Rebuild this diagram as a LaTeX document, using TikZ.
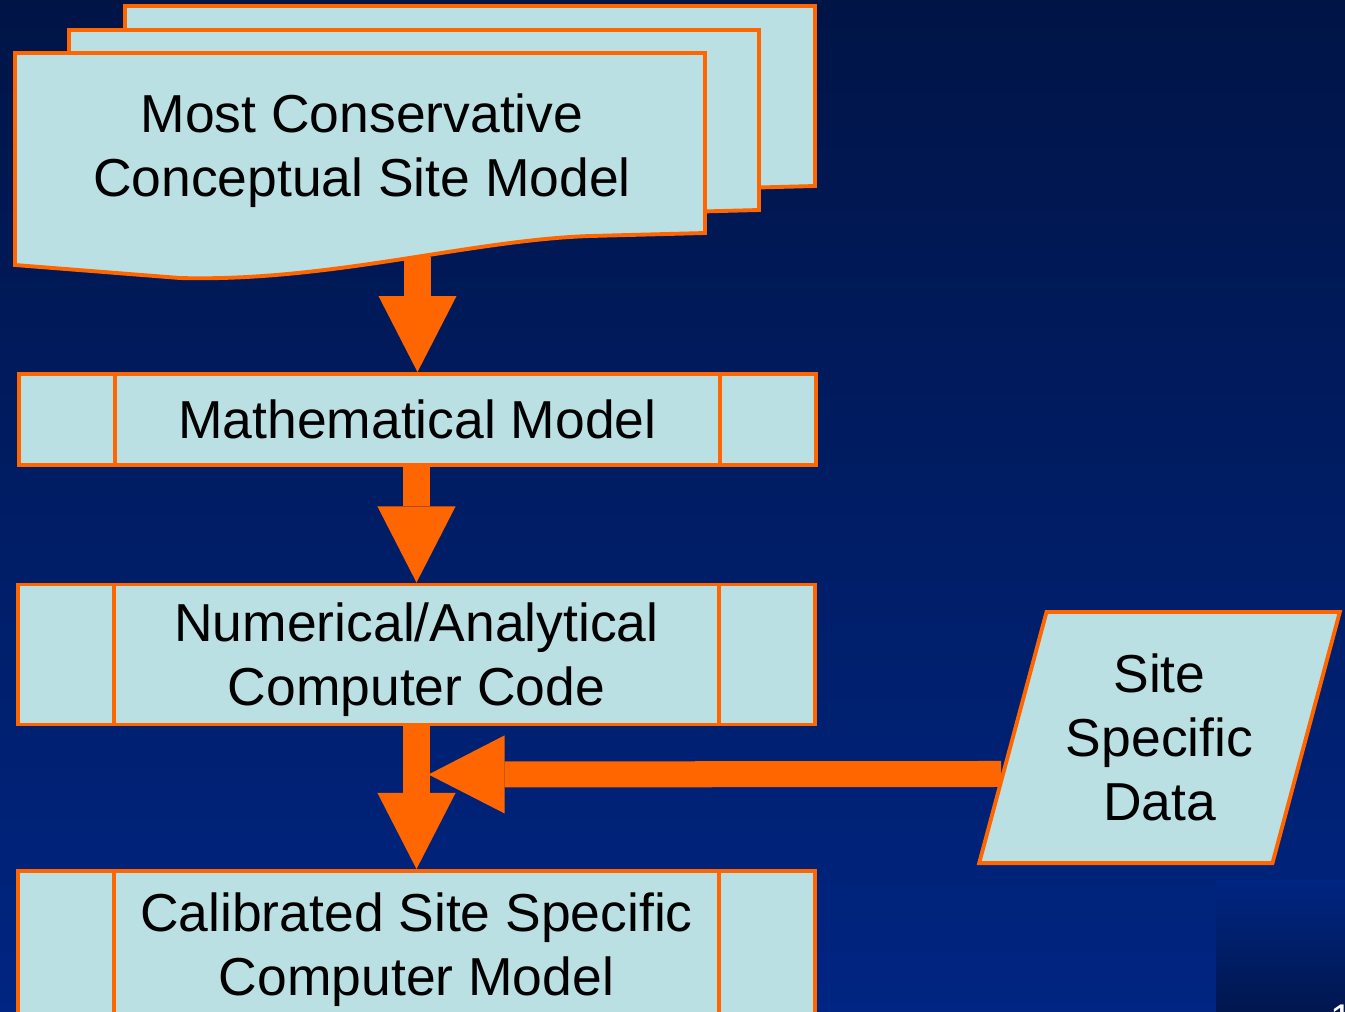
\documentclass[tikz,border=0pt]{standalone}
\usepackage{fontspec}
\setmainfont{Liberation Sans}
\usepackage{xcolor}
\usepackage{tikz}
\usetikzlibrary{arrows.meta, positioning, shapes.geometric, calc}

\definecolor{slidetop}{RGB}{0,20,70}
\definecolor{slidebottom}{RGB}{0,37,130}
\definecolor{flowfill}{RGB}{186,224,227}
\definecolor{flowline}{RGB}{255,102,0}

\tikzset{
  sheet/.style={fill=flowfill, draw=flowline, line width=1.1pt},
  boxtext/.style={font=\fontsize{15.2}{18.2}\selectfont, align=center, text depth=0pt},
  procbox/.style={boxtext, rectangle, fill=flowfill, draw=flowline, line width=1.1pt,
    minimum width=7.97cm, inner sep=0pt,
    path picture={\draw[flowline, line width=1.1pt]
      ([xshift=0.965cm]path picture bounding box.north west) -- ([xshift=0.965cm]path picture bounding box.south west)
      ([xshift=-0.965cm]path picture bounding box.north east) -- ([xshift=-0.965cm]path picture bounding box.south east);}},
  databox/.style={boxtext, trapezium, trapezium left angle=71.5, trapezium right angle=108.5,
    trapezium stretches=true, minimum width=3.63cm, minimum height=2.51cm, inner sep=0pt,
    fill=flowfill, draw=flowline, line width=1.1pt},
  flow/.style={draw=flowline, line width=0.26cm,
    -{Triangle[length=0.76cm, width=0.78cm, line width=0pt]}}
}

% one sheet of the document stack
\newcommand{\docsheet}[1]{\path[sheet, shift={#1}] (15,53) -- (705,53) -- (705,233) -- (590,236)
  .. controls (470,240) and (330,282) .. (180,278) -- (15,265) -- cycle;}

\begin{document}
\begin{tikzpicture}[x=0.01cm, y=-0.01cm]
  \useasboundingbox (0,0) rectangle (1345,1011);
  \clip (0,0) rectangle (1345,1011);
  % Slide background
  \shade[top color=slidetop, bottom color=slidebottom] (0,0) rectangle (1345,1011);
  \shade[top color=slidebottom, bottom color=slidetop!85!slidebottom] (1216,880) rectangle (1345,1011);
  \node[anchor=base west, text=white, font=\fontsize{11.4}{12}\selectfont] (pagenum) at (1318,1032) {1};
  % Document stack
  \docsheet{(110,-47)}
  \docsheet{(54,-23)}
  \docsheet{(0,0)}
  \node[boxtext] (doc) at (362,145) {Most Conservative\\Conceptual Site Model};
  \coordinate (docout) at (417,257);
  % Process boxes
  \node[procbox, minimum height=0.91cm] (math) at (417.5,419.5) {Mathematical Model};
  \node[procbox, minimum height=1.40cm] (code) at (416.5,654.5) {Numerical/Analytical\\Computer Code};
  \node[procbox, minimum height=1.46cm] (calib) at (416.5,944) {Calibrated Site Specific\\Computer Model};
  % Input data
  \node[databox] (data) at (1159.5,737.5) {Site\\Specific\\Data};
  \coordinate (join) at ($(code.south)+(12,48)$);
  % Arrows
  \draw[flow] (docout -| math.north) -- (math.north);
  \draw[flow] (code.north |- math.south) -- (code.north);
  \draw[flow] (code.south) -- (calib.north);
  \draw[flow] ($(data.top left corner)!0.643!(data.bottom left corner)$) -- (join);
\end{tikzpicture}
\end{document}
